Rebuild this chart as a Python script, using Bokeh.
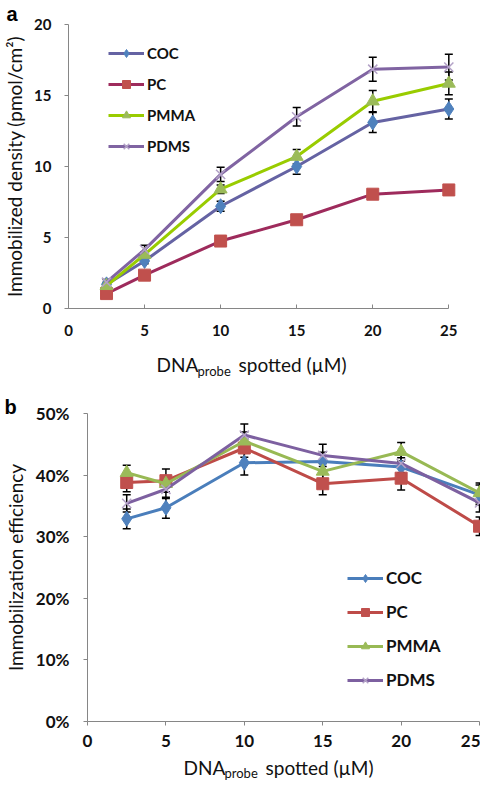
from bokeh.plotting import figure
from bokeh.models import (ColumnDataSource, Range1d, FixedTicker, PrintfTickFormatter,
                          Whisker, TeeHead, Label, Title)
from bokeh.layouts import column
from bokeh.embed import file_html
from bokeh.resources import INLINE

# ---------------- data ----------------
conc = [2.5, 5, 10, 15, 20, 25]
series_names = ["COC", "PC", "PMMA", "PDMS"]

# panel a: immobilized density (pmol/cm2)
coc_a = [1.7, 3.35, 7.2, 10.0, 13.1, 14.05]
pc_a = [1.05, 2.35, 4.75, 6.25, 8.05, 8.35]
pmma_a = [1.6, 3.8, 8.4, 10.7, 14.6, 15.85]
pdms_a = [1.85, 4.15, 9.45, 13.5, 16.85, 17.0]
coc_a_err = [0.15, 0.2, 0.35, 0.55, 0.7, 0.7]
pc_a_err = [0.1, 0.15, 0.15, 0.2, 0.15, 0.3]
pmma_a_err = [0.15, 0.2, 0.3, 0.5, 0.75, 0.8]
pdms_a_err = [0.2, 0.3, 0.5, 0.65, 0.85, 0.9]

# panel b: immobilization efficiency (%)
coc_b = [32.9, 34.7, 42.0, 42.2, 41.3, 36.8]
pc_b = [38.8, 39.1, 44.4, 38.6, 39.5, 31.7]
pmma_b = [40.4, 38.6, 45.5, 40.6, 43.8, 37.1]
pdms_b = [35.4, 37.7, 46.5, 43.2, 41.9, 35.5]
coc_b_err = [1.6, 1.7, 2.0, 1.5, 1.5, 1.6]
pc_b_err = [1.5, 1.9, 1.5, 1.8, 1.9, 1.5]
pmma_b_err = [1.2, 1.3, 1.5, 1.3, 1.5, 1.6]
pdms_b_err = [1.4, 1.5, 1.8, 1.8, 1.5, 1.5]

x_ticks = [0, 5, 10, 15, 20, 25]
ya_ticks = [0, 5, 10, 15, 20]
yb_ticks = [0, 10, 20, 30, 40, 50]

FONT = "Lato"
AXIS_GRAY = "#868686"
TXT = "#111111"
TITLE_SIZE = "19px"


def style_axes(p, tick_size, xl_standoff, yl_standoff, x_tick_in, x_tick_out):
    for ax in (p.xaxis[0], p.yaxis[0]):
        ax.axis_line_color = AXIS_GRAY
        ax.axis_line_width = 1
        ax.major_tick_line_color = AXIS_GRAY
        ax.minor_tick_line_color = None
        ax.major_label_text_font = FONT
        ax.major_label_text_font_style = "bold"
        ax.major_label_text_font_size = tick_size
        ax.major_label_text_color = TXT
        ax.axis_label_text_font = FONT
        ax.axis_label_text_font_style = "normal"
        ax.axis_label_text_font_size = TITLE_SIZE
        ax.axis_label_text_color = TXT
    p.yaxis[0].major_tick_in = 0
    p.yaxis[0].major_tick_out = 4
    p.xaxis[0].major_tick_in = x_tick_in
    p.xaxis[0].major_tick_out = x_tick_out
    p.xaxis[0].major_label_standoff = xl_standoff
    p.yaxis[0].major_label_standoff = yl_standoff
    p.xgrid.visible = False
    p.ygrid.visible = False
    p.outline_line_color = None


def add_series(p, ys, errs, name, line_color, marker, m_fill, m_size, m_line_w=1):
    p.line(conc, ys, line_color=line_color, line_width=3, legend_label=name)
    if marker == "x":
        p.scatter(conc, ys, marker="x", size=m_size, line_color=m_fill,
                  line_width=m_line_w, legend_label=name)
    else:
        p.scatter(conc, ys, marker=marker, size=m_size, fill_color=m_fill,
                  line_color=m_fill, legend_label=name)
    src = ColumnDataSource(dict(x=conc,
                                upper=[v + e for v, e in zip(ys, errs)],
                                lower=[v - e for v, e in zip(ys, errs)]))
    p.add_layout(Whisker(source=src, base="x", upper="upper", lower="lower",
                         line_color="black", line_width=1.5,
                         upper_head=TeeHead(size=8, line_color="black", line_width=1.5),
                         lower_head=TeeHead(size=8, line_color="black", line_width=1.5)))


def style_legend(lg, loc, spacing, size):
    lg.location = loc
    lg.padding = 0
    lg.margin = 0
    lg.spacing = spacing
    lg.glyph_width = 36
    lg.glyph_height = 20
    lg.label_height = 20
    lg.label_standoff = 3
    lg.label_text_font = FONT
    lg.label_text_font_style = "bold"
    lg.label_text_font_size = size
    lg.label_text_color = TXT
    lg.border_line_color = None
    lg.background_fill_alpha = 0


def title_strip(height, x, y_mid, y_sub):
    """A bare strip (no axes) that carries the x-axis title with its subscript."""
    s = figure(width=480, height=height, output_backend="svg", toolbar_location=None,
               x_range=Range1d(0, 480), y_range=Range1d(0, height),
               min_border=0, min_border_left=0, min_border_right=0,
               min_border_top=0, min_border_bottom=0)
    s.frame_align = False
    s.axis.visible = False
    s.grid.visible = False
    s.outline_line_color = None
    s.add_layout(Label(x=x, y=y_mid, text="DNA", text_font=FONT, text_font_size=TITLE_SIZE,
                       text_baseline="middle", text_color=TXT))
    s.add_layout(Label(x=x + 41, y=y_sub, text="probe", text_font=FONT,
                       text_font_size="13px", text_baseline="middle", text_color=TXT))
    s.add_layout(Label(x=x + 82, y=y_mid, text="spotted (\u00b5M)", text_font=FONT,
                       text_font_size=TITLE_SIZE, text_baseline="middle", text_color=TXT))
    return s


def panel_letter(p, letter, offset, standoff):
    p.add_layout(Title(text=letter, align="left", offset=offset, standoff=standoff,
                       text_font="Liberation Sans", text_font_style="bold",
                       text_font_size="20px", text_color="black"), "above")


# ---------------- panel a ----------------
pa = figure(width=480, height=350, output_backend="svg", toolbar_location=None,
            x_range=Range1d(0, 25.9), y_range=Range1d(0, 20),
            min_border_left=64, min_border_right=18, min_border_top=22, min_border_bottom=42)
pa.frame_align = False
pa.xaxis[0].ticker = FixedTicker(ticks=x_ticks)
pa.yaxis[0].ticker = FixedTicker(ticks=ya_ticks)
pa.xaxis[0].bounds = (0, 25)
pa.yaxis[0].axis_label = "Immobilized density (pmol/cm\u00b2)"
pa.yaxis[0].axis_label_standoff = 5
style_axes(pa, "15px", 16, 13, 4, 0)

add_series(pa, coc_a, coc_a_err, "COC", "#6563a3", "diamond", "#4f81bd", 15)
add_series(pa, pc_a, pc_a_err, "PC", "#9e2b5c", "square", "#c0504d", 12)
add_series(pa, pmma_a, pmma_a_err, "PMMA", "#99cc00", "triangle", "#9bbb59", 13)
add_series(pa, pdms_a, pdms_a_err, "PDMS", "#8064a2", "x", "#b3a2c7", 13, 1.5)
panel_letter(pa, "a", -62, 0)
style_legend(pa.legend[0], (40, 152), 11, "15px")

strip_a = title_strip(47, 156, 33, 27)

# ---------------- panel b ----------------
pb = figure(width=480, height=358, output_backend="svg", toolbar_location=None,
            x_range=Range1d(0, 25.06), y_range=Range1d(0, 50),
            min_border_left=84, min_border_right=0, min_border_top=16, min_border_bottom=34)
pb.frame_align = False
pb.xaxis[0].ticker = FixedTicker(ticks=x_ticks)
pb.yaxis[0].ticker = FixedTicker(ticks=yb_ticks)
pb.yaxis[0].formatter = PrintfTickFormatter(format="%d%%")
pb.xaxis[0].bounds = (0, 25)
pb.yaxis[0].axis_label = "Immobilization efficiency"
pb.yaxis[0].axis_label_standoff = 6
style_axes(pb, "17px", 9, 14, 0, 4)

add_series(pb, coc_b, coc_b_err, "COC", "#4a7ebb", "diamond", "#4f81bd", 15)
add_series(pb, pc_b, pc_b_err, "PC", "#be4b48", "square", "#c0504d", 12)
add_series(pb, pmma_b, pmma_b_err, "PMMA", "#98b954", "triangle", "#9bbb59", 13)
add_series(pb, pdms_b, pdms_b_err, "PDMS", "#7d60a0", "x", "#b3a2c7", 13, 1.5)
panel_letter(pb, "b", -83, -8)
style_legend(pb.legend[0], (260, 31), 13, "17px")

strip_b = title_strip(26, 183, 14.4, 8.4)

layout = column(pa, strip_a, pb, strip_b)
open("out.html", "w").write(file_html(layout, INLINE))
